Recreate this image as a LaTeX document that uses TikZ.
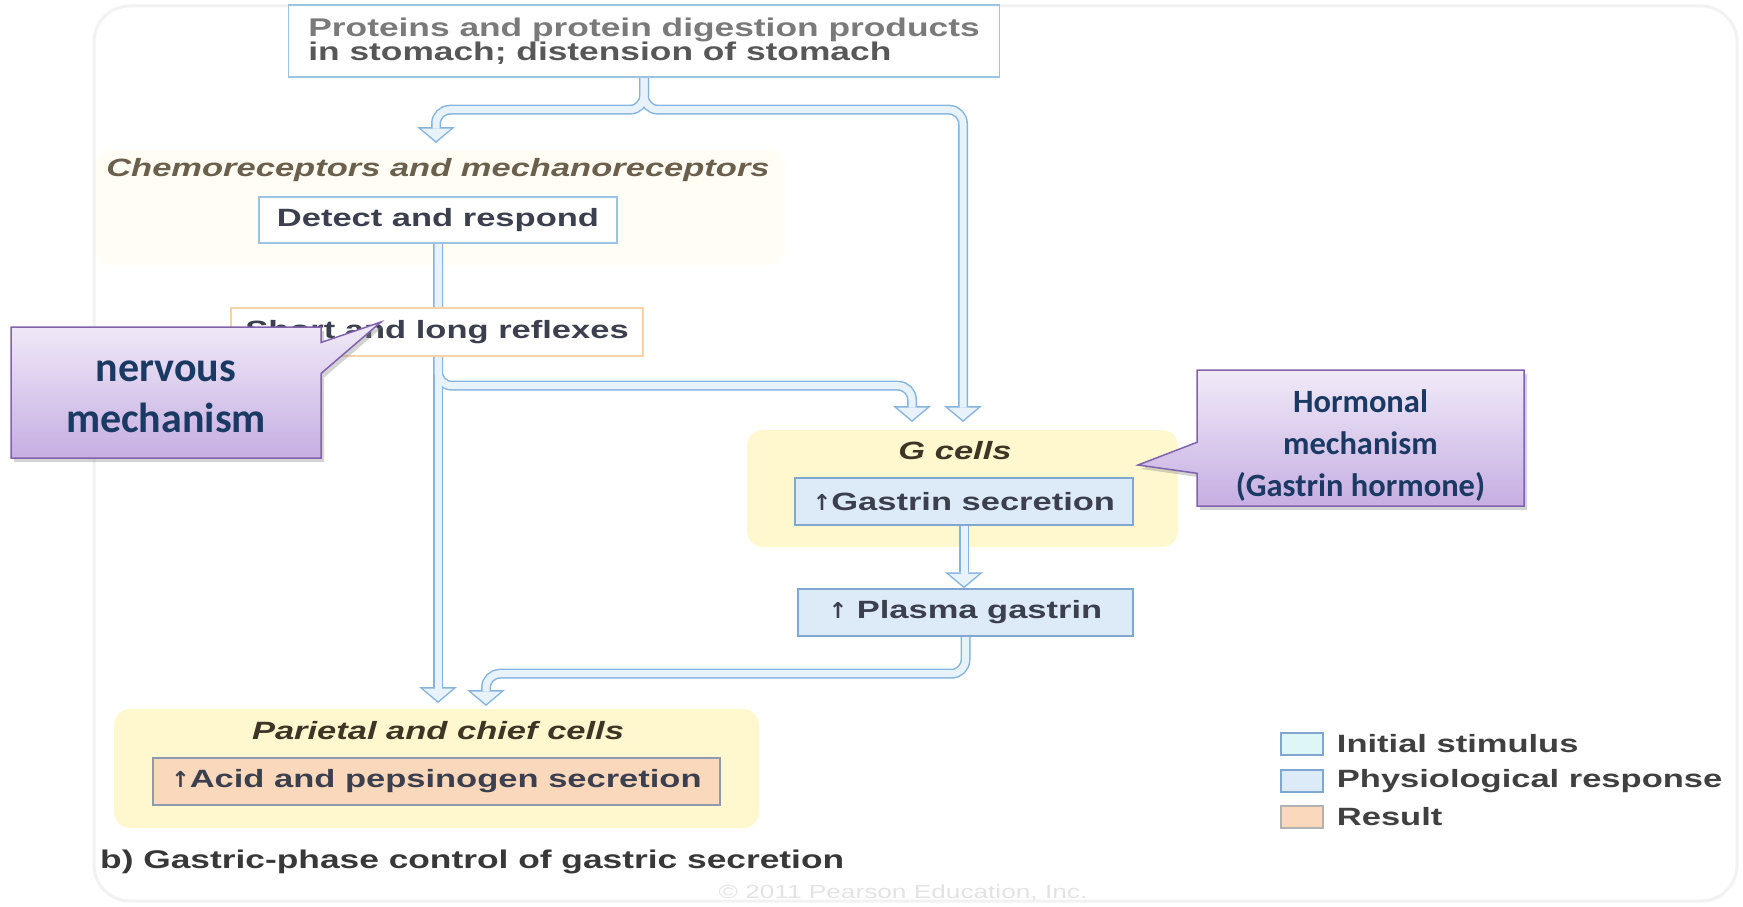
\documentclass[tikz,border=0pt]{standalone}
\usepackage{fontspec}
\usetikzlibrary{positioning, arrows.meta, shapes.callouts, shadows, calc}
\newfontfamily\figfont[FakeStretch=1.38]{Liberation Sans}
\newfontfamily\uparrowfont{DejaVu Sans}
\newfontfamily\notefont{Carlito}
\newcommand\upmark{{\uparrowfont\bfseries\fontsize{22}{24}\selectfont ↑}}
\definecolor{pipeline}{HTML}{86B4DC}
\definecolor{pipefill}{HTML}{E8F2FB}
\definecolor{boxline}{HTML}{9CC3E0}
\definecolor{respfill}{HTML}{DDEBF8}
\definecolor{respline}{HTML}{7FA7CF}
\definecolor{stimfill}{HTML}{DFF6F6}
\definecolor{cellfill}{HTML}{FFF8CF}
\definecolor{resultfill}{HTML}{FAD8BC}
\definecolor{resultline}{HTML}{8E9AAE}
\definecolor{reflexline}{HTML}{F6D2A8}
\definecolor{figtext}{HTML}{3C404E}
\definecolor{stimtext}{HTML}{7A7A7A}
\definecolor{sensetext}{HTML}{6B604E}
\definecolor{celltext}{HTML}{3E3526}
\definecolor{notefill}{HTML}{C6AEE2}
\definecolor{notetop}{HTML}{F0EAF8}
\definecolor{noteline}{HTML}{8062AE}
\definecolor{notetext}{HTML}{1B3A63}
\pgfdeclarelayer{back}
\pgfdeclarelayer{pipes}
\pgfsetlayers{back,pipes,main}

\begin{document}
\begin{tikzpicture}[
    x=1pt, y=-1pt,
    font=\figfont\bfseries\fontsize{25}{28}\selectfont, text=figtext,
    box/.style={draw=boxline, line width=1.4pt, fill=white, inner sep=0pt, minimum height=46pt},
    response/.style={box, draw=respline, fill=respfill},
    cellzone/.style={fill=cellfill, rounded corners=16pt, inner sep=0pt},
    celllabel/.style={font=\figfont\bfseries\itshape\fontsize{25}{28}\selectfont, text=celltext, inner sep=0pt},
    pipeout/.style={draw=pipeline, line width=10pt, rounded corners=14pt, -{Triangle[length=16pt, width=38pt, line width=0pt]}},
    pipein/.style={draw=pipefill, line width=7pt, rounded corners=14pt, shorten >=2pt, -{Triangle[length=12.5pt, width=30pt, line width=0pt]}},
    note/.style={rectangle callout, draw=noteline, line width=1.5pt, top color=notetop, bottom color=notefill, callout pointer width=31pt, drop shadow={shadow xshift=3pt, shadow yshift=-4pt, opacity=0.35}, inner sep=0pt},
    notetxt/.style={align=center, text=notetext, inner sep=0pt},
    key/.style={draw=respline, line width=1.4pt, minimum width=42pt, minimum height=22pt, inner sep=0pt},
    keylabel/.style={inner sep=0pt, text=black!75}
]
    \useasboundingbox (0,0) rectangle (1743,907);
    \draw[gray!10, line width=3pt, rounded corners=36pt] (94,6) rectangle (1737,901);

    % ================= ZONES =================
    \begin{pgfonlayer}{back}
        \node[cellzone, fill=cellfill!22, minimum width=690pt, minimum height=115pt] (sensezone) at (440,207.5) {};
        \node[cellzone, minimum width=431pt, minimum height=117pt] (gzone) at (962.5,488.5) {};
        \node[cellzone, minimum width=645pt, minimum height=119pt] (pczone) at (436.5,768.5) {};
    \end{pgfonlayer}

    % ================= BOXES =================
    \node[box, minimum width=711pt, minimum height=72pt, align=left,
          font=\figfont\bfseries\fontsize{25.6}{24}\selectfont, text=black!66] (stimulus) at (644,41)
          {{\color{stimtext}Proteins and protein digestion products}\\in stomach; distension of stomach};

    \node[celllabel, text=sensetext] (sense) at (438,170) {Chemoreceptors and mechanoreceptors};
    \node[box, minimum width=358pt] (detect) at (438,220) {Detect and respond};
    \node[box, draw=reflexline, minimum width=412pt, minimum height=48pt] (reflex) at (437,332) {Short and long reflexes};

    \node[celllabel] (glabel) at (955,451) {G cells};
    \node[response, minimum width=338pt, minimum height=47pt] (gastrin) at (964,501.5) {\upmark Gastrin secretion};
    \node[response, minimum width=335pt, minimum height=47pt] (plasma) at (965.5,612.5) {\upmark\ Plasma gastrin};

    \node[celllabel] (pclabel) at (438,731) {Parietal and chief cells};
    \node[box, draw=resultline, fill=resultfill, minimum width=567pt, minimum height=47pt] (acid) at (436.5,781.5) {\upmark Acid and pepsinogen secretion};

    \node[anchor=west, inner sep=0pt, text=black!78, font=\figfont\bfseries\fontsize{25.6}{28}\selectfont] (caption) at (100,862) {b) Gastric-phase control of gastric secretion};
    \node[font=\figfont\fontsize{19}{21}\selectfont, text=gray!22] (credit) at (903,893) {© 2011 Pearson Education, Inc.};

    % ================= LEGEND =================
    \node[key, fill=stimfill] (key1) at (1302,744) {};
    \node[key, fill=respfill] (key2) at (1302,781) {};
    \node[key, draw=gray!60, fill=resultfill] (key3) at (1302,817) {};
    \node[keylabel, right=13pt of key1] (key1txt) {Initial stimulus};
    \node[keylabel, right=13pt of key2] (key2txt) {Physiological response};
    \node[keylabel, right=13pt of key3] (key3txt) {Result};

    % ================= PIPES =================
    \coordinate (sensein) at (436,143);
    \coordinate (gin1) at (912,422);
    \coordinate (gin2) at (963,422);
    \coordinate (pcin1) at (438,703);
    \coordinate (pcin2) at (486,706);

    \begin{pgfonlayer}{pipes}
        % outline pass
        \draw[pipeout] (stimulus.south) -- ++(0,32) -| (sensein);
        \draw[pipeout] (stimulus.south) -- ++(0,32) -| (gin2);
        \draw[pipeout] (detect.south) -- (pcin1);
        \draw[pipeout] (detect.south) -- ++(0,142) -| (gin1);
        \draw[pipeout] (gastrin.south) -- (gastrin.south |- plasma.north);
        \draw[pipeout] (plasma.south) -- ++(0,37) -| (pcin2);
        % fill pass
        \draw[pipein] (stimulus.south) -- ++(0,32) -| (sensein);
        \draw[pipein] (stimulus.south) -- ++(0,32) -| (gin2);
        \draw[pipein] (detect.south) -- (pcin1);
        \draw[pipein] (detect.south) -- ++(0,142) -| (gin1);
        \draw[pipein] (gastrin.south) -- (gastrin.south |- plasma.north);
        \draw[pipein] (plasma.south) -- ++(0,37) -| (pcin2);
    \end{pgfonlayer}

    % ================= CALLOUTS =================
    \node[note, minimum width=310pt, minimum height=131pt, callout absolute pointer={(381,322)}] (nervous) at (166,392.5) {};
    \node[notetxt, font=\notefont\bfseries\fontsize{42}{51}\selectfont] (nervoustxt) at (166,397) {nervous\\mechanism};

    \node[note, minimum width=327pt, minimum height=136pt, callout absolute pointer={(1138,465)}] (hormonal) at (1360.5,438) {};
    \node[notetxt, font=\notefont\bfseries\fontsize{32.5}{42}\selectfont] (hormonaltxt) at (1360.5,446) {Hormonal\\mechanism\\(Gastrin hormone)};

\end{tikzpicture}
\end{document}
